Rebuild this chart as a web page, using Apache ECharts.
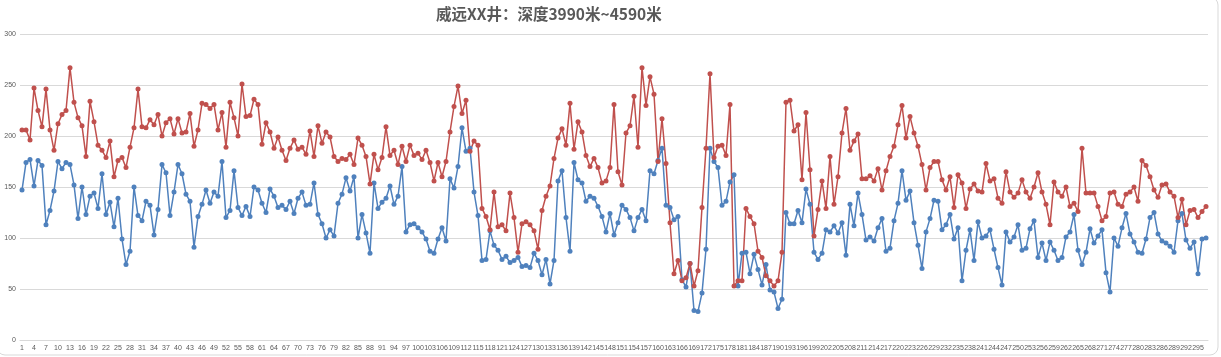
<!DOCTYPE html>
<html>
<head>
<meta charset="utf-8">
<script src="https://cdn.jsdelivr.net/npm/echarts@6/dist/echarts.min.js"></script>
<style>
html,body{margin:0;padding:0;background:#fff;}
#c{width:1221px;height:357px;}
</style>
</head>
<body>
<div id="c"></div>
<script>
const titleText = '威远XX井：深度3990米~4590米';
const categoryCount = 297;
const categories = [];
for (let i = 1; i <= categoryCount; i++) categories.push(String(i));

const blueSeries = [
147,174,177,151,176,171,113,127,146,175,168,174,172,152,119,150,123,141,144,129,
163,123,135,111,139,99,74,87,150,122,117,136,132,103,128,172,164,122,145,172,
163,143,136,91,121,133,147,134,145,141,175,120,127,166,130,122,131,121,150,147,
134,125,148,141,130,132,128,136,124,139,145,132,133,154,123,114,100,108,102,134,
143,159,146,160,100,123,105,85,154,129,135,139,151,133,141,170,106,113,114,110,
106,99,87,85,99,110,97,158,149,170,208,185,188,145,122,78,79,107,93,88,
79,82,76,78,81,72,73,71,85,78,64,79,55,78,156,166,120,87,174,157,
154,136,141,139,131,121,106,124,103,115,132,128,120,107,120,128,117,166,163,176,
188,132,130,118,121,59,52,75,29,28,46,89,188,175,169,132,136,155,162,53,
85,86,65,84,69,54,74,49,47,31,40,125,114,114,127,115,148,133,86,79,
85,108,106,112,105,115,83,133,112,144,123,98,101,97,110,119,87,90,117,134,
166,137,146,115,93,70,106,119,137,136,108,113,123,99,110,58,88,108,78,116,
100,102,108,89,71,54,106,96,101,113,88,90,109,117,81,95,78,96,88,78,
81,101,106,123,88,74,86,109,95,102,108,66,47,100,92,110,124,104,96,86,
85,99,120,125,104,97,95,92,86,117,124,98,90,96,65,99,100
];

const redSeries = [
206,206,196,247,225,209,246,206,186,212,221,225,267,233,218,210,180,234,214,191,
186,179,195,160,176,179,169,189,208,246,209,208,216,211,221,200,213,217,202,217,
203,204,222,190,206,232,231,227,231,206,223,189,233,218,200,251,219,220,236,231,
192,213,204,188,199,186,176,188,196,187,189,182,205,180,210,193,204,199,180,175,
178,177,182,172,198,191,180,153,182,167,179,209,181,186,172,190,175,191,181,183,
177,186,174,156,174,160,175,204,229,249,222,235,185,195,191,129,121,108,145,111,
113,107,144,120,86,114,116,113,107,89,127,141,151,178,198,207,191,232,187,214,
204,181,170,178,169,154,156,169,231,165,152,203,210,239,189,267,230,258,241,175,
217,173,115,65,78,58,61,75,53,68,130,188,261,179,190,191,181,231,53,58,
58,129,121,114,87,81,63,58,53,58,86,233,235,205,211,157,223,167,102,128,
156,129,180,133,160,203,227,186,195,202,158,158,161,156,168,147,166,180,190,211,
230,198,219,203,190,172,147,169,175,175,157,147,160,130,162,154,129,148,153,146,
145,173,156,158,139,134,165,145,140,144,157,145,139,150,164,145,133,113,155,145,
141,150,131,134,126,188,144,144,144,131,117,121,144,145,133,131,143,145,150,136,
176,171,160,147,140,152,153,145,141,120,138,113,127,128,120,126,131
];

const yTicks = {min: 0, max: 300, interval: 50};

const chart = echarts.init(document.getElementById('c'), null, {renderer: 'canvas'});
chart.setOption({
  animation: false,
  backgroundColor: '#ffffff',
  title: {
    text: titleText,
    left: 431,
    top: 1,
    textStyle: {
      fontFamily: '"Noto Sans CJK SC", "Noto Sans", sans-serif',
      fontSize: 15.5,
      fontWeight: 'bold',
      color: '#595959'
    }
  },
  graphic: [{
    type: 'rect',
    shape: {x: -3, y: -3, width: 1221, height: 358, r: 8},
    style: {fill: 'none', stroke: '#d9d9d9', lineWidth: 1},
    silent: true,
    z: -1
  }],
  grid: {left: 20, right: 13, top: 34, bottom: 17},
  xAxis: {
    type: 'category',
    data: categories,
    boundaryGap: true,
    axisLine: {show: true, lineStyle: {color: '#d9d9d9', width: 1}},
    axisTick: {show: false},
    axisLabel: {
      interval: 2,
      fontSize: 7,
      color: '#595959',
      margin: 5,
      fontFamily: 'Liberation Sans, sans-serif'
    },
    splitLine: {show: false}
  },
  yAxis: {
    type: 'value',
    min: yTicks.min,
    max: yTicks.max,
    interval: yTicks.interval,
    axisLine: {show: false},
    axisTick: {show: false},
    axisLabel: {fontSize: 7, color: '#595959', margin: 4, fontFamily: 'Liberation Sans, sans-serif'},
    splitLine: {lineStyle: {color: '#d9d9d9', width: 1}}
  },
  series: [
    {
      name: 'A',
      type: 'line',
      data: blueSeries,
      symbol: 'circle',
      symbolSize: 5,
      showAllSymbol: true,
      lineStyle: {color: '#4F81BD', width: 1.5},
      itemStyle: {color: '#4F81BD'}
    },
    {
      name: 'B',
      type: 'line',
      data: redSeries,
      symbol: 'circle',
      symbolSize: 5,
      showAllSymbol: true,
      lineStyle: {color: '#C0504D', width: 1.5},
      itemStyle: {color: '#C0504D'}
    }
  ]
});
</script>
</body>
</html>
